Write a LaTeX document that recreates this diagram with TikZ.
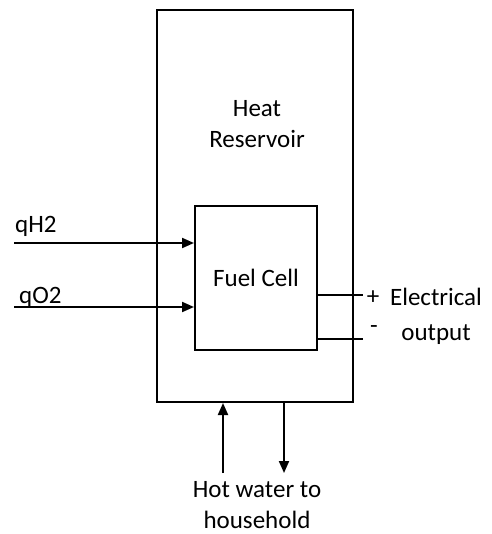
\documentclass[tikz,border=0pt]{standalone}
\usepackage{fontspec}
\setmainfont{Carlito}
\usetikzlibrary{arrows.meta}
\usetikzlibrary{positioning}

\tikzset{
    box/.style={draw,line width=2pt,rectangle,inner sep=0pt},
    flow/.style={line width=2pt,-{Triangle[length=12pt,width=10pt]}},
    wire/.style={line width=2pt},
    lbl/.style={font=\fontsize{25}{31}\selectfont,align=center,inner sep=0pt}
}

\begin{document}
\begin{tikzpicture}[x=1pt,y=-1pt]
        \useasboundingbox (0,0) rectangle (491,534);
        \node[box,minimum width=196pt,minimum height=392pt] (reservoir) at (255,206) {};
        \node[lbl] (heat) at (257,124) {Heat\\Reservoir};
        \node[box,minimum width=122pt,minimum height=144pt,lbl] (cell) at (256,278) {Fuel Cell};
        \coordinate (h2in) at (14,243);
        \coordinate (o2in) at (14,307);
        \draw[flow] (h2in) -- (h2in -| cell.west);
        \draw[flow] (o2in) -- (o2in -| cell.west);
        \node[lbl,anchor=west] (qh2) at (15,226) {qH2};
        \node[lbl,anchor=west] (qo2) at (19,297) {qO2};
        \coordinate (plus) at (363,295);
        \coordinate (minus) at (363,339);
        \draw[wire] (plus -| cell.east) -- (plus);
        \draw[wire] (minus -| cell.east) -- (minus);
        \node[lbl] (plussign) at (373,298) {+};
        \node[lbl] (minussign) at (374,330) {-};
        \node[lbl,font=\fontsize{25}{35}\selectfont] (elec) at (436,316) {Electrical\\output};
        \coordinate (waterin) at (223,473);
        \coordinate (waterout) at (284,473);
        \draw[flow] (waterin) -- (waterin |- reservoir.south);
        \draw[flow] (waterout |- reservoir.south) -- (waterout);
        \node[lbl] (water) at (257,505) {Hot water to\\household};
    \end{tikzpicture}
\end{document}
